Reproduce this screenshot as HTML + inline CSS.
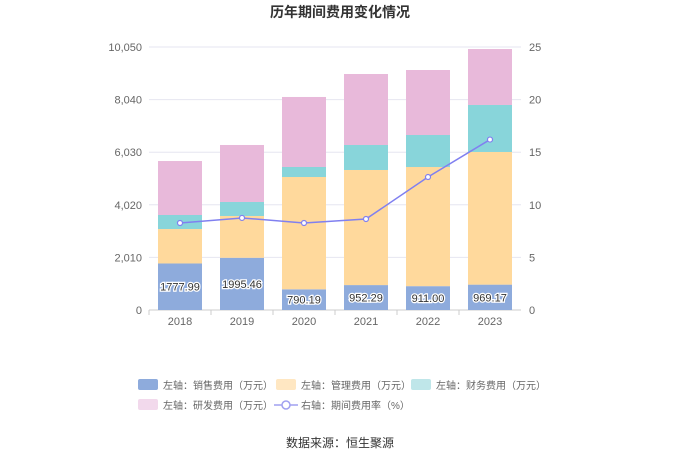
<!DOCTYPE html>
<html><head><meta charset="utf-8"><style>
body{margin:0;background:#fff;font-family:"Liberation Sans","Noto Sans CJK SC",sans-serif}
</style></head><body>
<svg id="c" width="680" height="460" xmlns="http://www.w3.org/2000/svg" font-family="Liberation Sans, Noto Sans CJK SC, sans-serif">
<text x="340" y="17" text-anchor="middle" font-size="14" font-weight="bold" fill="#333">历年期间费用变化情况</text>
<g id="grid"></g><g id="bars"></g><g id="line"></g><g id="axes"></g>
<g id="legend" font-size="10" fill="#666"></g>
<text x="340" y="447" text-anchor="middle" font-size="12" fill="#333">数据来源：恒生聚源</text>
</svg>
<script>
const years=["2018","2019","2020","2021","2022","2023"];
const sales=[1777.99,1995.46,790.19,952.29,911.00,969.17];
const mgmt=[1316,1597,4292,4398,4553,5069];
const fin=[536,535,382,955,1223,1796];
const rnd=[2063,2178,2676,2713,2484,2139];
const rate=[8.27,8.75,8.27,8.65,12.64,16.2];
const leftTicks=[0,2010,4020,6030,8040,10050];
const rightTicks=[0,5,10,15,20,25];
const NS="http://www.w3.org/2000/svg";
const X0=149,X1=521,Y0=310,Y1=47;
const yL=v=>Y0-(v/10050)*(Y0-Y1);
const yR=v=>Y0-(v/25)*(Y0-Y1);
const band=(X1-X0)/years.length;
const xC=i=>X0+band*(i+0.5);
function mk(t,a,p){const e=document.createElementNS(NS,t);for(const k in a)e.setAttribute(k,a[k]);p.appendChild(e);return e;}
const g=document.getElementById('grid'),ax=document.getElementById('axes'),bg=document.getElementById('bars'),lg=document.getElementById('line'),leg=document.getElementById('legend');
leftTicks.forEach((t,i)=>{
 const y=yL(t);
 const l=mk('line',{x1:X0,x2:X1,y1:y,y2:y,stroke:i?'#e6e6f0':'#ccc'},g);
 
 
 const tx=mk('text',{x:X0-7,y:y+4,'text-anchor':'end','font-size':11,fill:'#666'},ax);
 tx.textContent=t.toLocaleString('en-US');
 
 
});
rightTicks.forEach(t=>{
 const tx=mk('text',{x:X1+8,y:yR(t)+4,'font-size':11,fill:'#666'},ax);
 tx.textContent=t;
 
 
});
years.forEach((yr,i)=>{
 const tx=mk('text',{x:xC(i),y:Y0+15,'text-anchor':'middle','font-size':11,fill:'#666'},ax);
 tx.textContent=yr;
 
 
 const tk=mk('line',{x1:X0+band*i,x2:X0+band*i,y1:Y0,y2:Y0+5,stroke:'#ccc'},ax);
 
 
});
const series=[[sales,'#8eabdc','sales'],[mgmt,'#ffd99c','mgmt'],[fin,'#88d5da','finance'],[rnd,'#e8b9da','rnd']];
const bw=44;
years.forEach((yr,i)=>{
 let base=0;
 series.forEach(([arr,col,nm])=>{
  const v=arr[i];
  const r=mk('rect',{x:xC(i)-bw/2,y:yL(base+v),width:bw,height:yL(base)-yL(base+v),fill:col},bg);
  
  
  base+=v;
 });
 const t=mk('text',{x:xC(i),y:(yL(0)+yL(sales[i]))/2+4,'text-anchor':'middle','font-size':11,fill:'#333',stroke:'#fff','stroke-width':2.5,'paint-order':'stroke'},bg);
 t.textContent=sales[i].toFixed(2);
 
 
});
const pl=mk('polyline',{points:rate.map((v,i)=>xC(i)+','+yR(v)).join(' '),fill:'none',stroke:'#8080f0','stroke-width':1.5},lg);


rate.forEach((v,i)=>{
 const c=mk('circle',{cx:xC(i),cy:yR(v),r:2.5,fill:'#fff',stroke:'#8080f0','stroke-width':1.2},lg);
 
 
});
const items=[[138,385,'#8eabdc','左轴：销售费用（万元）','rect'],[276,385,'#ffe7c2','左轴：管理费用（万元）','rect'],[411,385,'#bfe6e9','左轴：财务费用（万元）','rect'],[138,405,'#f2d9ec','左轴：研发费用（万元）','rect'],[276,405,'#a0a0f0','右轴：期间费用率（%）','line']];
items.forEach(([x,y,c,t,k])=>{
 const gg=mk('g',{},leg);
 
 
 if(k==='rect')mk('rect',{x:x,y:y-6,width:20,height:11,rx:2,fill:c},gg);
 else{mk('line',{x1:x-2,x2:x+22,y1:y,y2:y,stroke:c,'stroke-width':1.5},gg);mk('circle',{cx:x+10,cy:y,r:4,fill:'#fff',stroke:c,'stroke-width':1.5},gg);}
 const tx=mk('text',{x:x+25,y:y+4},gg);tx.textContent=t;
});
</script>
</body></html>
